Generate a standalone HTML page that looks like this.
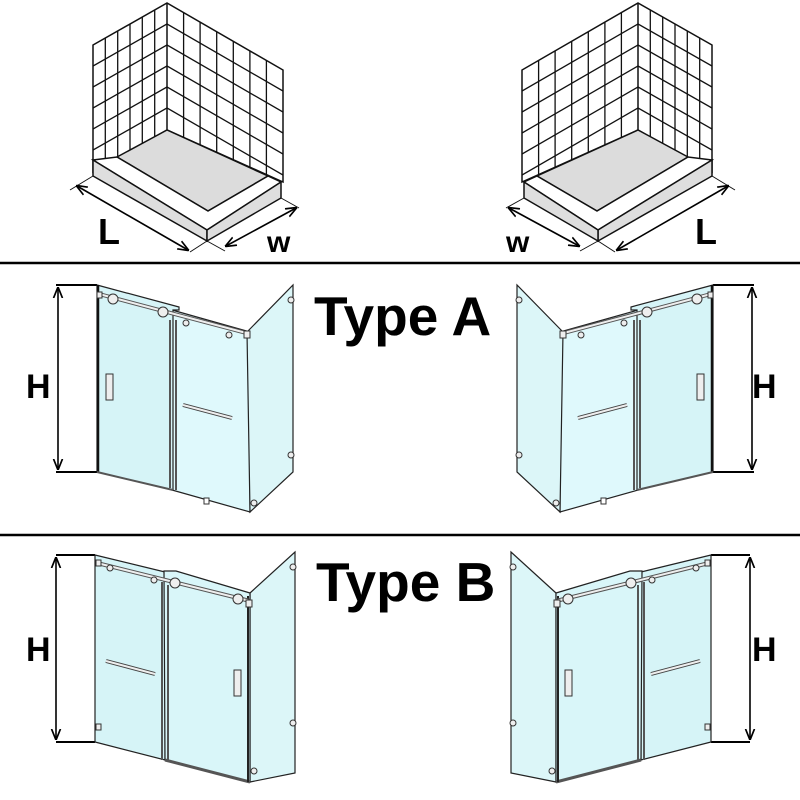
<!DOCTYPE html>
<html><head><meta charset="utf-8"><style>
html,body{margin:0;padding:0;background:#fff;}
svg{display:block;}
text{font-family:"Liberation Sans",sans-serif;font-weight:bold;fill:#000;}
</style></head><body>
<svg width="800" height="800" viewBox="0 0 800 800" xmlns="http://www.w3.org/2000/svg">
<defs>
<clipPath id="lw"><polygon points="93,45 167,3 167,130 93,172"/></clipPath>
<clipPath id="rw"><polygon points="167,3 283,70 283,182 167,130"/></clipPath>
<marker id="ar" viewBox="0 0 10 10" refX="9" refY="5" markerWidth="7" markerHeight="7" orient="auto-start-reverse"><path d="M0,1 L10,5 L0,9" fill="none" stroke="#000" stroke-width="1.5"/></marker>

<g id="tub">
  <polygon points="93,45 167,3 167,130 93,172" fill="#fff"/>
  <polygon points="167,3 283,70 283,182 167,130" fill="#fff"/>
  <g clip-path="url(#lw)" stroke="#111" stroke-width="1.3">
    <line x1="105.3" y1="0" x2="105.3" y2="200"/><line x1="117.7" y1="0" x2="117.7" y2="200"/>
    <line x1="130" y1="0" x2="130" y2="200"/><line x1="142.3" y1="0" x2="142.3" y2="200"/>
    <line x1="154.7" y1="0" x2="154.7" y2="200"/>
    <line x1="93" y1="66" x2="167" y2="24"/><line x1="93" y1="87" x2="167" y2="45"/>
    <line x1="93" y1="108" x2="167" y2="66"/><line x1="93" y1="129" x2="167" y2="87"/>
    <line x1="93" y1="150" x2="167" y2="108"/>
  </g>
  <g clip-path="url(#rw)" stroke="#111" stroke-width="1.3">
    <line x1="183.6" y1="0" x2="183.6" y2="200"/><line x1="200.1" y1="0" x2="200.1" y2="200"/>
    <line x1="216.7" y1="0" x2="216.7" y2="200"/><line x1="233.3" y1="0" x2="233.3" y2="200"/>
    <line x1="249.9" y1="0" x2="249.9" y2="200"/><line x1="266.4" y1="0" x2="266.4" y2="200"/>
    <line x1="167" y1="24" x2="283" y2="91"/><line x1="167" y1="45" x2="283" y2="112"/>
    <line x1="167" y1="66" x2="283" y2="133"/><line x1="167" y1="87" x2="283" y2="154"/>
    <line x1="167" y1="108" x2="283" y2="175"/>
  </g>
  <polygon points="93,45 167,3 283,70 283,182 167,130 93,172" fill="none" stroke="#111" stroke-width="1.5"/>
  <line x1="167" y1="3" x2="167" y2="130" stroke="#111" stroke-width="1.5"/>
  <polygon points="167,130 117,157 208,211 268,176" fill="#dcdcdc" stroke="#111" stroke-width="1.5"/>
  <polygon points="93,160 117,157 208,211 268,176 281,182 207,230" fill="#fff" stroke="#111" stroke-width="1.5"/>
  <polygon points="93,160 207,230 207,241 93,176" fill="#dedede" stroke="#111" stroke-width="1.5"/>
  <polygon points="207,230 281,182 281,198 207,241" fill="#dedede" stroke="#111" stroke-width="1.5"/>
  <line x1="93" y1="176" x2="70" y2="190" stroke="#111" stroke-width="1"/>
  <line x1="207" y1="241" x2="190" y2="252" stroke="#111" stroke-width="1"/>
  <line x1="207" y1="241" x2="225" y2="251" stroke="#111" stroke-width="1"/>
  <line x1="281" y1="198" x2="299" y2="208" stroke="#111" stroke-width="1"/>
  <line x1="77" y1="186" x2="188" y2="250" stroke="#000" stroke-width="1.6" marker-start="url(#ar)" marker-end="url(#ar)"/>
  <line x1="226" y1="246" x2="296" y2="208" stroke="#000" stroke-width="1.6" marker-start="url(#ar)" marker-end="url(#ar)"/>
</g>

<g id="typeA">
  <line x1="56" y1="285" x2="97" y2="285" stroke="#000" stroke-width="2"/>
  <line x1="56" y1="472" x2="97" y2="472" stroke="#000" stroke-width="2"/>
  <line x1="58" y1="288" x2="58" y2="469" stroke="#000" stroke-width="1.6" marker-start="url(#ar)" marker-end="url(#ar)"/>
  <polygon points="172,310 250,332 250,512 172,490" fill="#dff9fc" stroke="#222" stroke-width="1.2"/>
  <polygon points="247,332 293,285 293,472 250,512" fill="#dcf6f8" stroke="#222" stroke-width="1.2"/>
  <polygon points="97,285 179,307 179,310 173,310 173,490 97,472" fill="#d6f4f7" stroke="#222" stroke-width="1.2"/>
  <line x1="98" y1="285" x2="98" y2="472" stroke="#111" stroke-width="2.5"/>
  <line x1="97" y1="472" x2="173" y2="490" stroke="#555" stroke-width="2"/>
  <line x1="170" y1="320" x2="170" y2="488" stroke="#555" stroke-width="2"/>
  <line x1="176" y1="320" x2="176" y2="490" stroke="#555" stroke-width="2"/>
  <line x1="99" y1="294" x2="250" y2="334" stroke="#555" stroke-width="4"/>
  <line x1="99" y1="294" x2="250" y2="334" stroke="#eee" stroke-width="2"/>
  <circle cx="113" cy="299" r="5" fill="#eee" stroke="#333"/>
  <circle cx="163" cy="312" r="5" fill="#eee" stroke="#333"/>
  <circle cx="186" cy="323" r="3" fill="#eee" stroke="#333"/>
  <circle cx="229" cy="335" r="3" fill="#eee" stroke="#333"/>
  <rect x="97" y="292" width="5" height="6" fill="#eee" stroke="#333"/>
  <rect x="244" y="331" width="6" height="7" fill="#eee" stroke="#333"/>
  <rect x="106" y="374" width="7" height="26" fill="#eee" stroke="#333"/>
  <line x1="183" y1="405" x2="232" y2="418" stroke="#444" stroke-width="4"/>
  <line x1="183" y1="405" x2="232" y2="418" stroke="#eee" stroke-width="2"/>
  <rect x="204" y="498" width="5" height="6" fill="#fff" stroke="#333"/>
  <circle cx="291" cy="300" r="3" fill="#eee" stroke="#333"/>
  <circle cx="291" cy="455" r="3" fill="#eee" stroke="#333"/>
  <circle cx="254" cy="503" r="3" fill="#eee" stroke="#333"/>
</g>

<g id="typeB">
  <line x1="56" y1="555" x2="95" y2="555" stroke="#000" stroke-width="2"/>
  <line x1="56" y1="742" x2="95" y2="742" stroke="#000" stroke-width="2"/>
  <line x1="56" y1="558" x2="56" y2="739" stroke="#000" stroke-width="1.6" marker-start="url(#ar)" marker-end="url(#ar)"/>
  <polygon points="95,555 165,572 165,760 95,742" fill="#d6f4f7" stroke="#222" stroke-width="1.2"/>
  <polygon points="250,593 295,552 295,773 250,782" fill="#dcf6f8" stroke="#222" stroke-width="1.2"/>
  <polygon points="164,571 176,571 250,593 250,782 165,760" fill="#d9f6f9" stroke="#222" stroke-width="1.2"/>
  <line x1="162" y1="582" x2="162" y2="760" stroke="#555" stroke-width="2"/>
  <line x1="168" y1="585" x2="168" y2="762" stroke="#555" stroke-width="2"/>
  <line x1="165" y1="760" x2="250" y2="782" stroke="#555" stroke-width="3"/>
  <line x1="248" y1="596" x2="248" y2="782" stroke="#222" stroke-width="2"/>
  <line x1="97" y1="563" x2="250" y2="601" stroke="#555" stroke-width="4"/>
  <line x1="97" y1="563" x2="250" y2="601" stroke="#eee" stroke-width="2"/>
  <circle cx="110" cy="568" r="3" fill="#eee" stroke="#333"/>
  <circle cx="154" cy="580" r="3" fill="#eee" stroke="#333"/>
  <circle cx="175" cy="583" r="5" fill="#eee" stroke="#333"/>
  <circle cx="238" cy="599" r="5" fill="#eee" stroke="#333"/>
  <rect x="96" y="560" width="5" height="6" fill="#eee" stroke="#333"/>
  <rect x="246" y="600" width="6" height="7" fill="#eee" stroke="#333"/>
  <line x1="106" y1="661" x2="155" y2="674" stroke="#444" stroke-width="4"/>
  <line x1="106" y1="661" x2="155" y2="674" stroke="#eee" stroke-width="2"/>
  <rect x="234" y="670" width="7" height="26" fill="#eee" stroke="#333"/>
  <rect x="96" y="724" width="5" height="6" fill="#eee" stroke="#333"/>
  <circle cx="293" cy="567" r="3" fill="#eee" stroke="#333"/>
  <circle cx="293" cy="723" r="3" fill="#eee" stroke="#333"/>
  <circle cx="254" cy="771" r="3" fill="#eee" stroke="#333"/>
</g>
</defs>

<use href="#tub"/>
<use href="#tub" transform="translate(805,0) scale(-1,1)"/>
<use href="#typeA"/>
<use href="#typeA" transform="translate(810,0) scale(-1,1)"/>
<use href="#typeB"/>
<use href="#typeB" transform="translate(806,0) scale(-1,1)"/>

<line x1="0" y1="263" x2="800" y2="263" stroke="#000" stroke-width="2.5"/>
<line x1="0" y1="535" x2="800" y2="535" stroke="#000" stroke-width="2.5"/>

<text x="98" y="244" font-size="36">L</text>
<text x="267" y="252" font-size="30">w</text>
<text x="506" y="252" font-size="30">w</text>
<text x="695" y="244" font-size="36">L</text>
<text x="26" y="398" font-size="34">H</text>
<text x="752" y="398" font-size="34">H</text>
<text x="26" y="661" font-size="34">H</text>
<text x="752" y="661" font-size="34">H</text>
<text x="314" y="335" font-size="55">Type A</text>
<text x="316" y="601" font-size="55">Type B</text>
</svg>
</body></html>
